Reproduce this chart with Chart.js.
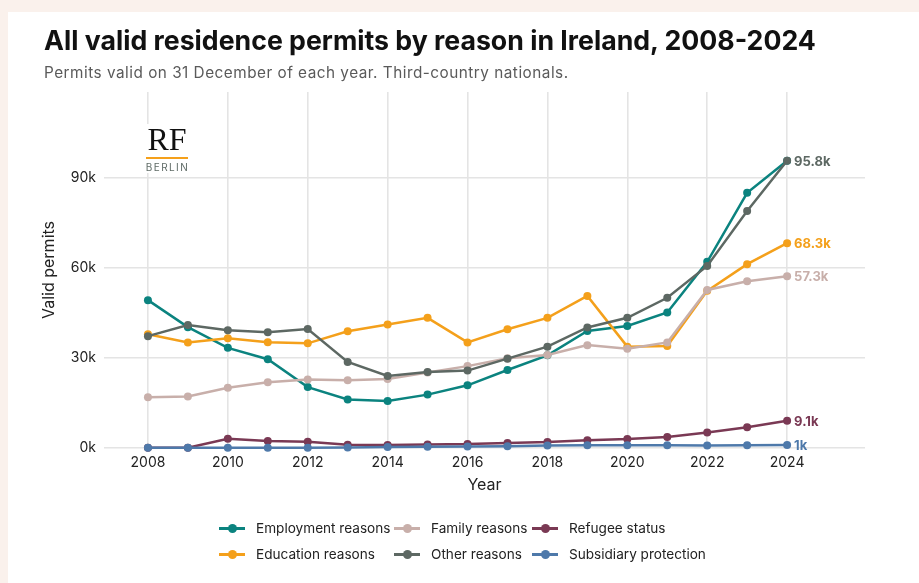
<!DOCTYPE html>
<html>
<head>
<meta charset="utf-8">
<script src="https://cdn.jsdelivr.net/npm/chart.js@4.4.1/dist/chart.umd.min.js"></script>
<style>
    body { margin: 0; background: #faf1ec; font-family: Inter, "Open Sans", sans-serif; }
    .card { position: absolute; left: 8px; top: 12px; width: 911px; height: 571px; background: #fff; }
    #chart { position: absolute; left: 0; top: 0; }
    .title { position: absolute; left: 44px; top: 24px; font-size: 26.7px; font-weight: 700; color: #111; white-space: nowrap; }
    .subtitle { position: absolute; left: 44px; top: 63px; font-size: 15.3px; letter-spacing: 0.5px; color: #5a5a5a; white-space: nowrap; }
    .logo { position: absolute; left: 144px; top: 124px; width: 46px; background: #fff; text-align: center; z-index: 2; }
    .logo .rf { font-family: "Liberation Serif", "DejaVu Serif", serif; font-size: 32px; line-height: 31px; color: #111; }
    .logo .bar { height: 2px; background: #f5a01a; margin: 2px 2px 2px 2px; }
    .logo .city { font-size: 10px; letter-spacing: 1.4px; color: #5f6b66; line-height: 12px; padding-left: 1px; }
    .legend { position: absolute; left: 0; top: 0; width: 919px; height: 583px; pointer-events: none; }
    .legend-item { position: absolute; font-size: 13.6px; color: #222; white-space: nowrap; transform: translateY(-50%); }
    .legend-item .swatch { position: absolute; top: 50%; height: 3px; width: 26px; margin-top: -1.5px; }
    .legend-item .swatch i { position: absolute; left: 9px; top: -3px; width: 9px; height: 9px; border-radius: 50%; }
</style>
</head>
<body>
<div class="card"></div>
<canvas id="chart" width="919" height="583"></canvas>
<div class="title">All valid residence permits by reason in Ireland, 2008-2024</div>
<div class="subtitle">Permits valid on 31 December of each year. Third-country nationals.</div>
<div class="logo"><div class="rf">RF</div><div class="bar"></div><div class="city">BERLIN</div></div>
<div class="legend" id="legend"></div>

<script>
const years = [2008, 2009, 2010, 2011, 2012, 2013, 2014, 2015, 2016, 2017, 2018, 2019, 2020, 2021, 2022, 2023, 2024];

const employment = [49300, 40300, 33400, 29600, 20300, 16200, 15700, 17800, 20900, 26000, 30900, 39000, 40700, 45200, 62100, 85100, 95800];
const education = [37900, 35200, 36600, 35300, 34900, 38900, 41200, 43400, 35200, 39600, 43400, 50700, 33800, 34000, 52400, 61300, 68300];
const family = [16900, 17200, 20100, 21900, 22800, 22600, 23000, 25200, 27300, 29900, 31000, 34300, 33100, 35200, 52700, 55600, 57300];
const other = [37300, 41000, 39300, 38600, 39700, 28700, 24000, 25300, 25800, 29800, 33800, 40200, 43400, 50100, 60700, 79000, 95800];
const refugee = [50, 100, 3100, 2300, 2100, 1100, 1000, 1200, 1300, 1700, 2000, 2600, 3000, 3700, 5200, 6900, 9100];
const subsidiary = [100, 100, 100, 100, 100, 200, 300, 400, 500, 600, 800, 900, 900, 900, 800, 900, 1000];

const seriesNames = ['Employment reasons', 'Education reasons', 'Family reasons', 'Other reasons', 'Refugee status', 'Subsidiary protection'];
const seriesValues = [employment, education, family, other, refugee, subsidiary];
const seriesColors = ['#0b837f', '#f4a01b', '#c8afaa', '#5d6863', '#7a3954', '#4e79aa'];
const showEndLabel = [false, true, true, true, true, true];

// legend is laid out in 3 columns, 2 rows (column-major)
const legendOrder = [0, 1, 2, 3, 4, 5];
const legendCols = [219, 394, 532];
const legendRows = [528, 554];

const yTicks = [0, 30000, 60000, 90000];

function formatK(v) {
    return (Math.round(v / 100) / 10) + 'k';
}

const endLabels = {
    id: 'endLabels',
    afterDatasetsDraw(chart) {
        const ctx = chart.ctx;
        ctx.save();
        ctx.font = '700 13px Inter, sans-serif';
        ctx.textBaseline = 'middle';
        chart.data.datasets.forEach((ds, i) => {
            if (!showEndLabel[i]) return;
            const meta = chart.getDatasetMeta(i);
            const pt = meta.data[meta.data.length - 1];
            ctx.fillStyle = ds.borderColor;
            ctx.fillText(formatK(ds.data[ds.data.length - 1].y), pt.x + 7, pt.y + 1);
        });
        ctx.restore();
    }
};

function buildLegend() {
    const box = document.getElementById('legend');
    box.innerHTML = legendOrder.map((idx, n) => {
        const col = Math.floor(n / 2);
        const row = n % 2;
        return `
            <div class="legend-item" style="left:${legendCols[col]}px; top:${legendRows[row]}px; padding-left:37px;">
                <span class="swatch" style="left:0; background:${seriesColors[idx]};"><i style="background:${seriesColors[idx]};"></i></span>
                ${seriesNames[idx]}
            </div>`;
    }).join('');
}

function renderChart() {
    const ctx = document.getElementById('chart');
    const datasets = seriesNames.map((name, i) => ({
        label: name,
        data: years.map((yr, k) => ({ x: yr, y: seriesValues[i][k] })),
        borderColor: seriesColors[i],
        backgroundColor: seriesColors[i],
        borderWidth: 2.5,
        pointRadius: 4,
        pointBorderWidth: 0,
        pointHoverRadius: 4,
        tension: 0,
        clip: false,
        order: seriesNames.length - i
    }));

    new Chart(ctx, {
        type: 'line',
        data: { datasets: datasets },
        options: {
            responsive: false,
            animation: false,
            devicePixelRatio: 1,
            layout: { padding: { top: 92, right: 54, bottom: 83, left: 0 } },
            plugins: { legend: { display: false }, tooltip: { enabled: false } },
            scales: {
                x: {
                    type: 'linear',
                    min: 2006.9,
                    max: 2025.95,
                    afterFit: s => { s.height = 52; },
                    grid: { color: '#e4e4e4', lineWidth: 1.6, drawTicks: false },
                    border: { display: false },
                    ticks: {
                        stepSize: 2,
                        includeBounds: false,
                        padding: 6,
                        color: '#222',
                        font: { family: 'Inter', size: 14 },
                        callback: v => String(v)
                    },
                    title: {
                        display: true,
                        text: 'Year',
                        color: '#222',
                        font: { family: 'Inter', size: 16 },
                        padding: { top: 0, bottom: 5 }
                    }
                },
                y: {
                    min: 0,
                    max: 118700,
                    afterFit: s => { s.width = 104; },
                    afterBuildTicks: s => { s.ticks = yTicks.map(v => ({ value: v })); },
                    grid: { color: '#e4e4e4', lineWidth: 1.6, drawTicks: false },
                    border: { display: false },
                    ticks: {
                        padding: 8,
                        color: '#222',
                        font: { family: 'Inter', size: 14 },
                        callback: v => (v / 1000) + 'k'
                    },
                    title: {
                        display: true,
                        text: 'Valid permits',
                        color: '#222',
                        font: { family: 'Inter', size: 16 },
                        padding: { top: 40, bottom: 0 }
                    }
                }
            }
        },
        plugins: [endLabels]
    });
}

document.addEventListener('DOMContentLoaded', () => {
    buildLegend();
    renderChart();
});
</script>
</body>
</html>
